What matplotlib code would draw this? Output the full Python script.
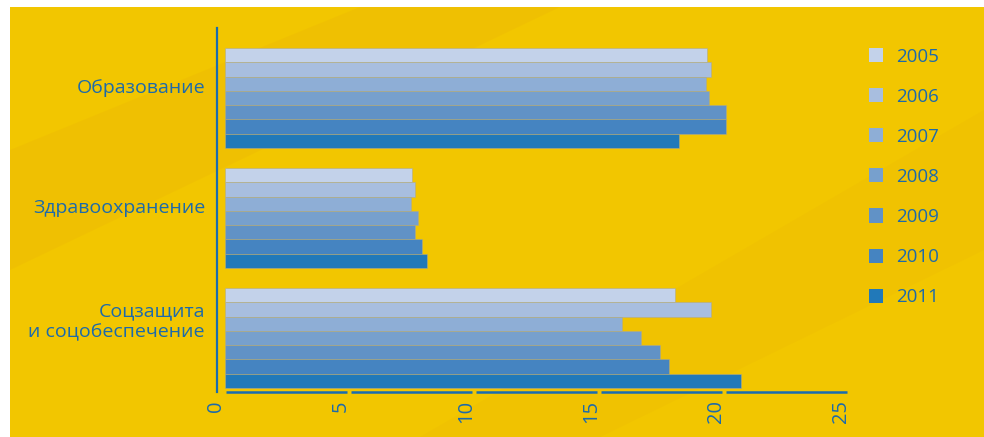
import matplotlib.pyplot as plt
import matplotlib.transforms as mtransforms
from matplotlib.patches import Rectangle, Polygon
import numpy as np

plt.rcParams['font.family'] = ['Open Sans', 'DejaVu Sans']

# data
categories = ["Образование", "Здравоохранение", "Соцзащита\nи соцобеспечение"]
years = ["2005", "2006", "2007", "2008", "2009", "2010", "2011"]
values = {
    "2005": [19.3, 7.5, 18.0],
    "2006": [19.45, 7.6, 19.45],
    "2007": [19.25, 7.45, 15.9],
    "2008": [19.35, 7.75, 16.65],
    "2009": [20.05, 7.6, 17.4],
    "2010": [20.05, 7.9, 17.75],
    "2011": [18.15, 8.1, 20.65],
}
xticks = [0, 5, 10, 15, 20, 25]

colors = ["#c3d2ea", "#a8bedf", "#8eaed6", "#77a0cd", "#6192c6", "#4584c1", "#2179b9"]
text_blue = "#1c6aab"
line_blue = "#1a6cb0"

W, H = 984, 437
fig = plt.figure(figsize=(W / 100, H / 100), dpi=100)
fig.patch.set_facecolor("white")

# yellow backdrop with faint diagonal bands
bg = fig.add_axes([0, 0, 1, 1], zorder=-10)
bg.set_xlim(0, W)
bg.set_ylim(H, 0)
bg.axis("off")
bg.add_patch(Rectangle((10, 7), W, H, facecolor="#f2c600", edgecolor="none"))
bg.add_patch(Polygon([(10, 150), (10, 270), (560, 7), (360, 7)],
                     facecolor="#eebb04", edgecolor="none", alpha=0.5))
bg.add_patch(Polygon([(420, 437), (600, 437), (984, 250), (984, 110)],
                     facecolor="#eebc04", edgecolor="none", alpha=0.4))

ax = fig.add_axes([217 / W, (H - 392) / H, (850 - 217) / W, (392 - 28) / H])
ax.patch.set_alpha(0)

bh = 0.1185
pos = np.arange(len(categories))
for i, yr in enumerate(years):
    ax.barh(pos - 3 * bh + i * bh, values[yr], height=bh, color=colors[i],
            edgecolor="#b3ab82", linewidth=0.4, label=yr)

ax.set_xlim(-0.3, 25)
ax.set_ylim(2.45, -0.583)

for s in ["top", "right", "bottom"]:
    ax.spines[s].set_visible(False)
ax.spines["left"].set_color(line_blue)
ax.spines["left"].set_linewidth(1.6)

ax.set_xticks([])
ax.set_yticks([])

# segmented x axis
trans_x = mtransforms.blended_transform_factory(ax.transData, ax.transAxes)
for a, b in zip(xticks[:-1], xticks[1:]):
    ax.plot([a + 0.05, b - 0.1], [0.0, 0.0], color=line_blue, lw=1.8,
            transform=trans_x, clip_on=False, solid_capstyle="butt", zorder=3)

off = mtransforms.ScaledTranslation(-9 / 100, -8 / 100, fig.dpi_scale_trans)
for v in xticks:
    ax.text(v, 0, str(v), transform=trans_x + off, rotation=90, ha="center",
            va="top", fontsize=14.5, color=text_blue)

trans_y = mtransforms.blended_transform_factory(ax.transAxes, ax.transData)
for p, c in zip(pos, categories):
    shift = 10 + 6 * c.count("\n")
    off_y = mtransforms.ScaledTranslation(-12 / 100, shift / 100, fig.dpi_scale_trans)
    ax.text(0, p, c, transform=trans_y + off_y, ha="right", va="center",
            fontsize=14, color=text_blue, linespacing=1.2, multialignment="right")

leg = ax.legend(loc="upper left", bbox_to_anchor=(861 / W, 1 - 40 / H),
                bbox_transform=fig.transFigure, frameon=False, fontsize=13.5,
                handlelength=0.78, handleheight=0.78, handletextpad=0.7,
                labelspacing=1.18, borderaxespad=0)
for t in leg.get_texts():
    t.set_color(text_blue)
for h in leg.legend_handles:
    h.set_edgecolor("none")

fig.savefig("out.png", dpi=100)
